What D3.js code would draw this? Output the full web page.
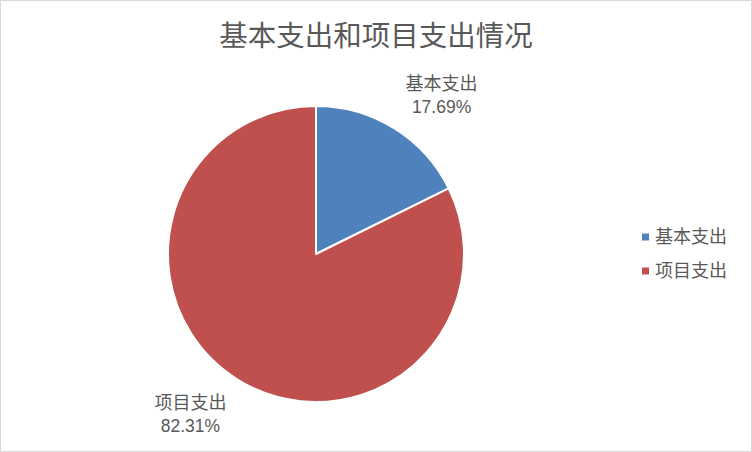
<!DOCTYPE html>
<html><head><meta charset="utf-8">
<script src="https://cdn.jsdelivr.net/npm/d3@7"></script>
<style>body{margin:0;background:#fff}svg{display:block}</style>
</head><body><svg id="c" width="752" height="452"></svg>
<script>
const title = "基本支出和项目支出情况";
const categories = ["基本支出", "项目支出"];
const values = [17.69, 82.31];
const colors = ["#4F81BD", "#C0504D"];

const W = 752, H = 452;
const svg = d3.select("#c");
const font = "'Noto Sans CJK SC','Microsoft YaHei',sans-serif";
const numFont = "'Liberation Sans',Arial,sans-serif";
svg.append("rect").attr("x",0.5).attr("y",0.5).attr("width",W-1).attr("height",H-1)
  .attr("fill","#fff").attr("stroke","#d9d9d9");

svg.append("text").attr("x",376).attr("y",46).attr("text-anchor","middle")
  .attr("font-family",font).attr("font-size",28.5).attr("fill","#595959").text(title);

const cx = 316, cy = 254, R = 148;
const pie = d3.pie().sort(null).value(d=>d)(values);
const arc = d3.arc().innerRadius(0).outerRadius(R);
const g = svg.append("g").attr("transform",`translate(${cx},${cy})`);
g.selectAll("path").data(pie).join("path")
  .attr("d",arc).attr("fill",(d,i)=>colors[i]).attr("stroke","#fff").attr("stroke-width",2).attr("stroke-linejoin","round");

const labelArc = d3.arc().innerRadius(166).outerRadius(166);
pie.forEach((d,i)=>{
  const [ax,ay] = labelArc.centroid(d);
  const t1 = g.append("text").attr("font-family",font).attr("font-size",18).attr("fill","#595959")
    .attr("text-anchor","middle").text(categories[i]);
  const t2 = g.append("text").attr("font-family",numFont).attr("font-size",17.5).attr("fill","#595959")
    .attr("text-anchor","middle").text(values[i].toFixed(2)+"%");
  const w = Math.max(t1.node().getComputedTextLength(), t2.node().getComputedTextLength());
  const right = ax >= 0;
  const below = ay >= 0;
  const x = right ? ax + w/2 + 2 : ax - w/2 - 2;
  const lh = 23;
  const y1 = below ? ay + 14 : ay - lh;
  t1.attr("x",x).attr("y",y1);
  t2.attr("x",x).attr("y",y1+lh);
});

const leg = svg.append("g");
categories.forEach((c,i)=>{
  const y = 237 + i*34;
  leg.append("rect").attr("x",642).attr("y",y-3.5).attr("width",7).attr("height",7).attr("fill",colors[i]);
  leg.append("text").attr("x",655).attr("y",y).attr("dy","0.35em").attr("font-family",font)
    .attr("font-size",18).attr("fill","#595959").text(c);
});
</script></body></html>
